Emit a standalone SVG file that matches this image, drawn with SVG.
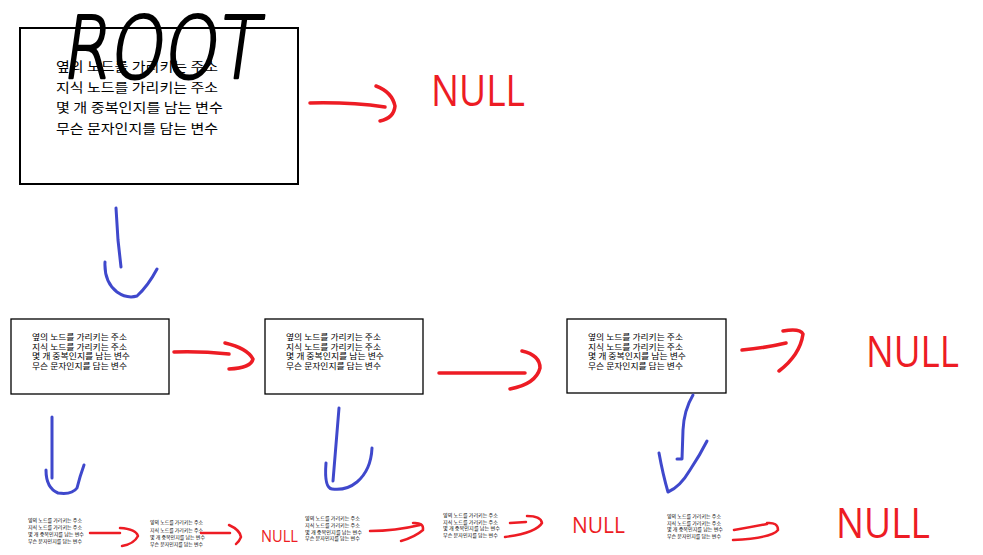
<svg xmlns="http://www.w3.org/2000/svg" width="983" height="555" viewBox="0 0 983 555">
<style>
.box{fill:#fff;stroke:#000;stroke-width:2}
.box1{fill:#fff;stroke:#000;stroke-width:1.3}
.t{font-family:"Noto Sans CJK KR","Noto Sans CJK SC",sans-serif;fill:#000}
.red{fill:none;stroke:#ed1c24;stroke-width:3.5;stroke-linecap:round;stroke-linejoin:round}
.redt{fill:none;stroke:#ed1c24;stroke-width:2.5;stroke-linecap:round;stroke-linejoin:round}
.blue{fill:none;stroke:#3f48cc;stroke-width:3;stroke-linecap:round;stroke-linejoin:round}
.null{font-family:"Open Sans","Liberation Sans",sans-serif;fill:#ed1c24}
.root{font-family:"DejaVu Sans",sans-serif;font-weight:200;fill:#000;stroke:#000;stroke-width:2.6;stroke-linejoin:round}
</style>
<rect width="983" height="555" fill="#fff"/>

<g id="root">
<rect class="box" x="20" y="28" width="278" height="156"/>
<g class="t" font-size="13">
<text x="56" y="71" textLength="162" lengthAdjust="spacingAndGlyphs">옆의 노드를 가리키는 주소</text>
<text x="56" y="92" textLength="162" lengthAdjust="spacingAndGlyphs">지식 노드를 가리키는 주소</text>
<text x="56" y="112" textLength="167" lengthAdjust="spacingAndGlyphs">몇 개 중복인지를 남는 변수</text>
<text x="56" y="133" textLength="162" lengthAdjust="spacingAndGlyphs">무슨 문자인지를 담는 변수</text>
</g>
<text class="root" x="64" y="78" font-size="86" textLength="196" lengthAdjust="spacingAndGlyphs" transform="skewX(-8) translate(8,0)">ROOT</text>
</g>

<g id="null-root"><text class="null" x="431" y="106" font-size="43" textLength="94" lengthAdjust="spacingAndGlyphs">NULL</text></g>

<g id="node1">
<rect class="box1" x="11" y="319" width="158" height="75"/>
<g class="t" font-size="7.8">
<text x="32" y="340" textLength="95" lengthAdjust="spacingAndGlyphs">옆의 노드를 가리키는 주소</text>
<text x="32" y="349.5" textLength="95" lengthAdjust="spacingAndGlyphs">지식 노드를 가리키는 주소</text>
<text x="32" y="359" textLength="98" lengthAdjust="spacingAndGlyphs">몇 개 중복인지를 남는 변수</text>
<text x="32" y="369" textLength="95" lengthAdjust="spacingAndGlyphs">무슨 문자인지를 담는 변수</text>
</g>
</g>
<g id="node2">
<rect class="box1" x="265" y="319" width="158" height="75"/>
<g class="t" font-size="7.8">
<text x="286" y="340" textLength="95" lengthAdjust="spacingAndGlyphs">옆의 노드를 가리키는 주소</text>
<text x="286" y="349.5" textLength="95" lengthAdjust="spacingAndGlyphs">지식 노드를 가리키는 주소</text>
<text x="286" y="359" textLength="98" lengthAdjust="spacingAndGlyphs">몇 개 중복인지를 남는 변수</text>
<text x="286" y="369" textLength="95" lengthAdjust="spacingAndGlyphs">무슨 문자인지를 담는 변수</text>
</g>
</g>
<g id="node3">
<rect class="box1" x="567" y="319" width="159" height="74"/>
<g class="t" font-size="7.8">
<text x="588" y="340" textLength="95" lengthAdjust="spacingAndGlyphs">옆의 노드를 가리키는 주소</text>
<text x="588" y="349.5" textLength="95" lengthAdjust="spacingAndGlyphs">지식 노드를 가리키는 주소</text>
<text x="588" y="359" textLength="98" lengthAdjust="spacingAndGlyphs">몇 개 중복인지를 남는 변수</text>
<text x="588" y="369" textLength="95" lengthAdjust="spacingAndGlyphs">무슨 문자인지를 담는 변수</text>
</g>
</g>
<g id="null-row2"><text class="null" x="866" y="367" font-size="43" textLength="93" lengthAdjust="spacingAndGlyphs">NULL</text></g>

<g id="leaf1" class="t" font-size="4.6">
<text x="28" y="522" textLength="54" lengthAdjust="spacingAndGlyphs">옆의 노드를 가리키는 주소</text>
<text x="28" y="529" textLength="54" lengthAdjust="spacingAndGlyphs">지식 노드를 가리키는 주소</text>
<text x="28" y="536" textLength="56" lengthAdjust="spacingAndGlyphs">몇 개 중복인지를 남는 변수</text>
<text x="28" y="543" textLength="54" lengthAdjust="spacingAndGlyphs">무슨 문자인지를 담는 변수</text>
</g>
<g id="leaf2" class="t" font-size="4.6">
<text x="150" y="524" textLength="53" lengthAdjust="spacingAndGlyphs">옆의 노드를 가리키는 주소</text>
<text x="150" y="531.5" textLength="53" lengthAdjust="spacingAndGlyphs">지식 노드를 가리키는 주소</text>
<text x="150" y="539" textLength="55" lengthAdjust="spacingAndGlyphs">몇 개 중복인지를 남는 변수</text>
<text x="150" y="546" textLength="53" lengthAdjust="spacingAndGlyphs">무슨 문자인지를 담는 변수</text>
</g>
<g id="null-leaf1"><text class="null" x="261" y="542" font-size="17" textLength="37" lengthAdjust="spacingAndGlyphs">NULL</text></g>
<g id="leaf3" class="t" font-size="4.6">
<text x="305" y="520" textLength="55" lengthAdjust="spacingAndGlyphs">옆의 노드를 가리키는 주소</text>
<text x="305" y="527" textLength="55" lengthAdjust="spacingAndGlyphs">지식 노드를 가리키는 주소</text>
<text x="305" y="533.5" textLength="57" lengthAdjust="spacingAndGlyphs">몇 개 중복인지를 남는 변수</text>
<text x="305" y="540" textLength="55" lengthAdjust="spacingAndGlyphs">무슨 문자인지를 담는 변수</text>
</g>
<g id="leaf4" class="t" font-size="4.6">
<text x="443" y="517" textLength="55" lengthAdjust="spacingAndGlyphs">옆의 노드를 가리키는 주소</text>
<text x="443" y="523.5" textLength="55" lengthAdjust="spacingAndGlyphs">지식 노드를 가리키는 주소</text>
<text x="443" y="530" textLength="57" lengthAdjust="spacingAndGlyphs">몇 개 중복인지를 남는 변수</text>
<text x="443" y="536.5" textLength="55" lengthAdjust="spacingAndGlyphs">무슨 문자인지를 담는 변수</text>
</g>
<g id="null-leaf2"><text class="null" x="572" y="533" font-size="22" textLength="53" lengthAdjust="spacingAndGlyphs">NULL</text></g>
<g id="leaf5" class="t" font-size="4.6">
<text x="667" y="518" textLength="54" lengthAdjust="spacingAndGlyphs">옆의 노드를 가리키는 주소</text>
<text x="667" y="524.5" textLength="54" lengthAdjust="spacingAndGlyphs">지식 노드를 가리키는 주소</text>
<text x="667" y="531" textLength="56" lengthAdjust="spacingAndGlyphs">몇 개 중복인지를 남는 변수</text>
<text x="667" y="538" textLength="54" lengthAdjust="spacingAndGlyphs">무슨 문자인지를 담는 변수</text>
</g>
<g id="null-leaf3"><text class="null" x="836" y="538" font-size="42" textLength="94" lengthAdjust="spacingAndGlyphs">NULL</text></g>

<g id="connectors">
<path class="red" d="M310,103 Q350,102 385,107 M376,86 Q392,92 395,106 Q394,118 380,121"/>
<path class="blue" d="M116,208 L118,240 L121,267 M105,262 Q104,282 117,292 Q127,299 137,296 Q148,286 157,269"/>
<path class="red" d="M174,352 Q200,351 229,354 M225,343 Q247,348 253,359 Q251,368 229,369"/>
<path class="red" d="M439,373 L525,373 M522,351 Q540,355 540,368 Q536,384 510,389"/>
<path class="red" d="M742,350 Q765,348 786,343 M783,331 Q800,328 803,334 Q800,355 779,371"/>
<path class="blue" d="M52,417 L52,478 M46,470 Q46,488 58,493 Q72,495 77,488 Q80,476 84,465"/>
<path class="blue" d="M339,408 L333,481 M326,463 Q324,488 332,489 Q346,491 357,482 Q371,470 372,448"/>
<path class="blue" d="M693,395 Q684,410 683,430 L682,459 L677,459 M659,453 Q663,475 668,492 Q680,487 690,470 Q700,455 707,441"/>
<path class="redt" d="M90,533 L120,533 M120,528 Q136,529 138,536 Q134,544 122,546"/>
<path class="redt" d="M201,533 L230,533 M229,525 Q240,530 241,537 Q239,542 236,544"/>
<path class="redt" d="M370,531 Q395,531 420,525 M413,523 Q424,522 423,530 Q415,537 401,541"/>
<path class="redt" d="M510,523 L526,522 M527,516 Q541,516 542,523 Q536,533 505,537"/>
<path class="redt" d="M734,530 Q752,527 767,524 M767,523 Q778,522 778,530 Q772,538 733,540"/>
</g>
</svg>
